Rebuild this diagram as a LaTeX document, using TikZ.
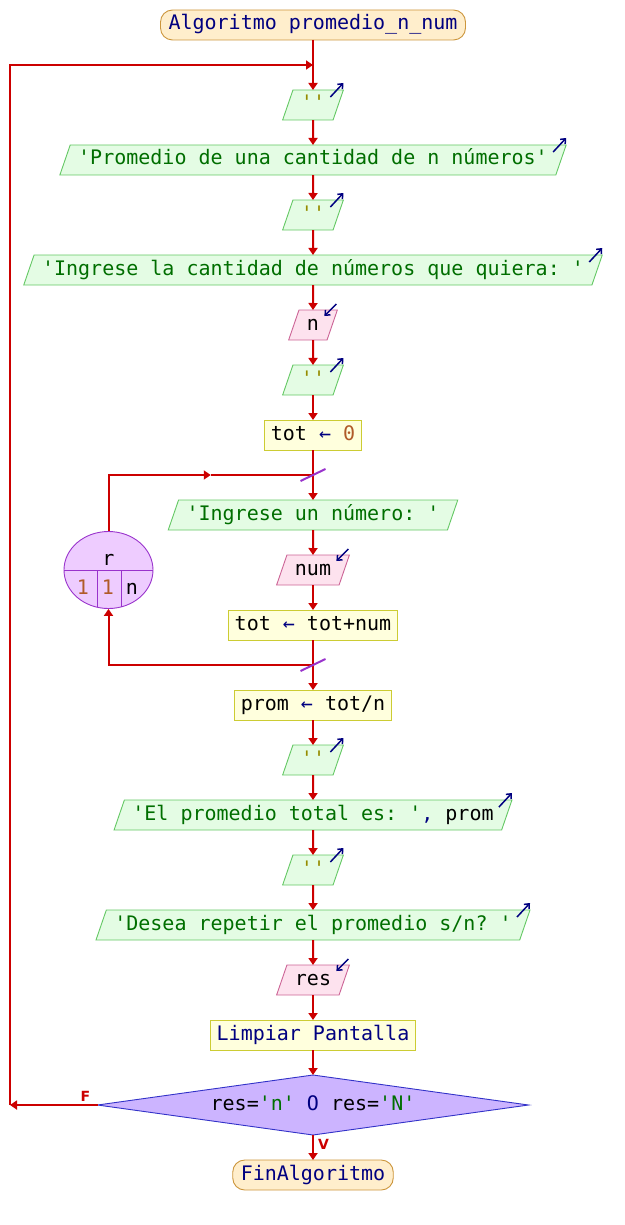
\documentclass[tikz,border=0pt]{standalone}
\usepackage{fontspec}
\setmainfont{DejaVu Sans}
\setsansfont{DejaVu Sans}
\setmonofont{DejaVu Sans Mono}
\usepackage{tikz}
\usetikzlibrary{positioning,calc
  ,shapes.geometric
  ,arrows.meta}
\definecolor{flowred}{RGB}{204,0,0}
\definecolor{navyblue}{RGB}{0,0,128}
\definecolor{strgreen}{RGB}{0,110,0}
\definecolor{numbrown}{RGB}{176,90,40}
\definecolor{quoteolive}{RGB}{150,140,0}
\definecolor{termfill}{RGB}{255,238,204}
\definecolor{termdraw}{RGB}{204,150,60}
\definecolor{outfill}{RGB}{228,252,228}
\definecolor{outdraw}{RGB}{100,200,100}
\definecolor{infill}{RGB}{253,226,238}
\definecolor{indraw}{RGB}{204,100,150}
\definecolor{procfill}{RGB}{255,255,221}
\definecolor{procdraw}{RGB}{204,204,51}
\definecolor{condfill}{RGB}{204,180,255}
\definecolor{conddraw}{RGB}{50,50,200}
\definecolor{forfill}{RGB}{238,204,255}
\definecolor{fordraw}{RGB}{153,51,204}
\tikzset{
  psetext/.style={font=\ttfamily\fontsize{20}{24}\selectfont
    ,text height=15pt, text depth=5pt}
  ,base/.style={psetext, draw, line width=.9pt, inner ysep=5pt, outer sep=0pt}
  ,term/.style={base, rectangle, rounded corners=12pt, inner xsep=8pt
    ,fill=termfill, draw=termdraw, text=navyblue}
  ,para/.style={base, trapezium, trapezium left angle=71
    ,trapezium right angle=109, inner xsep=8pt}
  ,output/.style={para, fill=outfill, draw=outdraw, text=strgreen}
  ,input/.style={para, fill=infill, draw=indraw}
  ,proc/.style={base, rectangle, inner xsep=6pt, fill=procfill, draw=procdraw}
  ,cond/.style={base, diamond, inner sep=0pt, aspect=7.2
    ,minimum width=431pt, minimum height=60pt
    ,fill=condfill, draw=conddraw}
  ,forloop/.style={ellipse, draw=fordraw, fill=forfill, line width=.9pt
    ,minimum width=89pt, minimum height=77pt, inner sep=0pt
    ,path picture={
      \draw[fordraw, line width=.9pt] (path picture bounding box.west)
        -- (path picture bounding box.east);
      \draw[fordraw, line width=.9pt] ([xshift=-11.5pt]path picture bounding box.center)
        -- ++(0,-45pt);
      \draw[fordraw, line width=.9pt] ([xshift=12.5pt]path picture bounding box.center)
        -- ++(0,-45pt);
    }}
  ,fortext/.style={psetext, inner sep=0pt}
  ,under/.style={below=55pt of #1.center, anchor=center}
  ,flow/.style={draw=flowred, line width=2pt, -{Triangle[length=7pt,width=9pt]}}
  ,flowline/.style={draw=flowred, line width=2pt}
  ,outmark/.style={draw=navyblue, line width=1.5pt
    ,-{Straight Barb[length=4pt,width=7pt]}}
  ,loopmark/.style={draw=fordraw, line width=2pt}
  ,branch/.style={text=flowred, inner sep=0pt
    ,font=\sffamily\bfseries\fontsize{14}{16}\selectfont}
}
\begin{document}
\begin{tikzpicture}[x=1pt, y=1pt]
  \useasboundingbox (0,0) rectangle (624,-1225);

  % main column
  \node[term] (title) at (313,-25) {Algoritmo promedio\_n\_num};
  \node[output, below=80pt of title.center, anchor=center] (out1)
    {\textcolor{quoteolive}{''}};
  \node[output, under=out1] (out2) {'Promedio de una cantidad de n números'};
  \node[output, under=out2] (out3) {\textcolor{quoteolive}{''}};
  \node[output, under=out3] (out4) {'Ingrese la cantidad de números que quiera: '};
  \node[input, under=out4] (inn) {n};
  \node[output, under=inn] (out5) {\textcolor{quoteolive}{''}};
  \node[proc, under=out5] (totzero)
    {tot \textcolor{navyblue}{←} \textcolor{numbrown}{0}};

  % loop body
  \node[output, below=80pt of totzero.center, anchor=center] (askn)
    {'Ingrese un número: '};
  \node[input, under=askn] (num) {num};
  \node[proc, under=num] (totsum) {tot \textcolor{navyblue}{←} tot+num};

  \node[proc, below=80pt of totsum.center, anchor=center] (prom)
    {prom \textcolor{navyblue}{←} tot/n};
  \node[output, under=prom] (out6) {\textcolor{quoteolive}{''}};
  \node[output, under=out6] (outprom)
    {'El promedio total es: '\textcolor{navyblue}{,} \textcolor{black}{prom}};
  \node[output, under=outprom] (out7) {\textcolor{quoteolive}{''}};
  \node[output, under=out7] (ask) {'Desea repetir el promedio s/n? '};
  \node[input, under=ask] (res) {res};
  \node[proc, under=res, text=navyblue] (cls) {Limpiar Pantalla};
  \node[cond, below=70pt of cls.center, anchor=center] (cond)
    {res=\textcolor{strgreen}{'n'} \textcolor{navyblue}{O} res=\textcolor{strgreen}{'N'}};
  \node[term, below=70pt of cond.center, anchor=center] (fin) {FinAlgoritmo};

  % for loop
  \coordinate (forx) at (108.5,0);
  \coordinate (railx) at (10,0);
  \node[forloop] (forr) at (forx |- num) {};
  \node[fortext] (forvar) at ([yshift=9.5pt]forr.center) {r};
  \node[fortext, text=numbrown] (forstart) at ([xshift=-25.5pt,yshift=-19.5pt]forr.center) {1};
  \node[fortext, text=numbrown] (forstep) at ([xshift=-0.5pt,yshift=-19.5pt]forr.center) {1};
  \node[fortext] (forend) at ([xshift=23.5pt,yshift=-19.5pt]forr.center) {n};

  % connectors
  \foreach \a/\b in {title/out1,out1/out2,out2/out3,out3/out4,out4/inn,%
    inn/out5,out5/totzero,totzero/askn,askn/num,num/totsum,totsum/prom,%
    prom/out6,out6/outprom,outprom/out7,out7/ask,ask/res,res/cls,%
    cls/cond,cond/fin}
    \draw[flow] (\a) -- (\b);

  \coordinate (join) at ($(title)!0.5!(out1)$);
  \coordinate (looptop) at ($(totzero)!0.5!(askn)$);
  \coordinate (loopbot) at ($(totsum)!0.5!(prom)$);
  \coordinate (loopmid) at ($(forr |- looptop)!0.5!(looptop)$);
  \draw[flow] (forr) |- (loopmid);
  \draw[flowline] (loopmid) -- (looptop);
  \draw[flow] (loopbot) -| (forr);
  \draw[loopmark] ([shift={(-12.5,-6)}]looptop) -- ([shift={(12.5,6)}]looptop);
  \draw[loopmark] ([shift={(-12.5,-6)}]loopbot) -- ([shift={(12.5,6)}]loopbot);

  % repeat branch
  \draw[flow] (cond) -- (cond -| railx);
  \draw[flow] (cond -| railx) |- (join);
  \node[branch, anchor=south east] (flbl) at ([xshift=-7pt,yshift=3pt]cond.west) {F};
  \node[branch, anchor=north west] (vlbl) at ([xshift=5pt,yshift=-4pt]cond.south) {V};

  % io marks
  \foreach \n in {out1,out2,out3,out4,out5,out6,outprom,out7,ask}
    \draw[outmark] ([shift={(-13,-7)}]\n.top right corner) -- ++(13,14);
  \foreach \n in {inn,num,res}
    \draw[outmark] ([shift={(-1,6)}]\n.top right corner) -- ++(-12,-12);
\end{tikzpicture}
\end{document}
